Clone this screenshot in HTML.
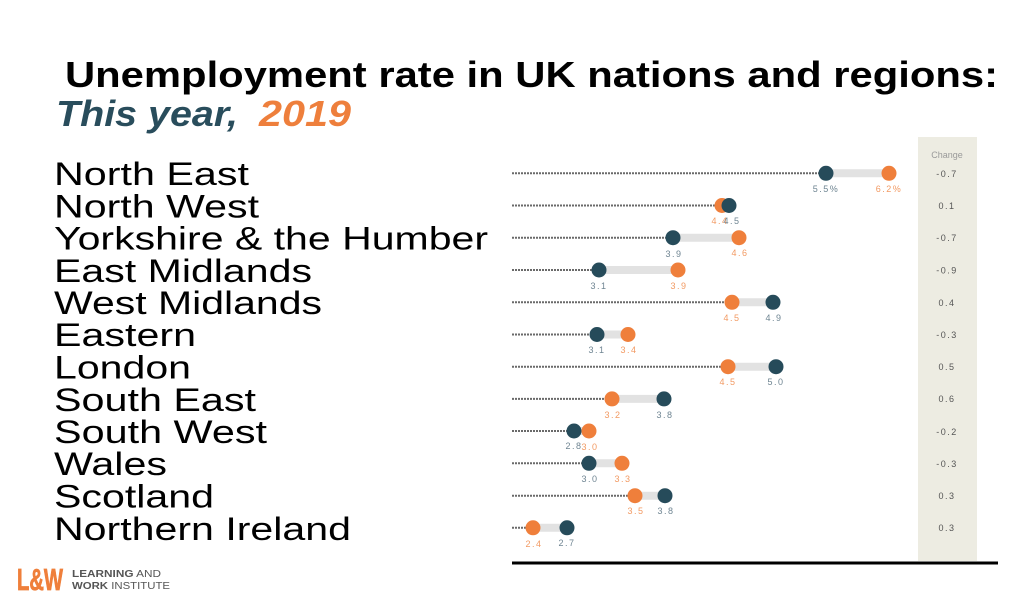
<!DOCTYPE html>
<html><head><meta charset="utf-8"><style>
html,body{margin:0;padding:0;background:#fff;}
svg{display:block;}
</style></head><body>
<svg width="1023" height="596" viewBox="0 0 1023 596" xmlns="http://www.w3.org/2000/svg">
<rect width="1023" height="596" fill="#fff"/>
<!-- Title -->
<text x="65" y="87" font-family="Liberation Sans, sans-serif" font-weight="bold" font-size="36" fill="#000" textLength="933" lengthAdjust="spacingAndGlyphs">Unemployment rate in UK nations and regions:</text>
<text x="56" y="126" font-family="Liberation Sans, sans-serif" font-weight="bold" font-style="italic" font-size="36" fill="#294d5c" textLength="182" lengthAdjust="spacingAndGlyphs">This year,</text>
<text x="259" y="126" font-family="Liberation Sans, sans-serif" font-weight="bold" font-style="italic" font-size="36" fill="#ee7f3c" textLength="92" lengthAdjust="spacingAndGlyphs">2019</text>

<!-- Region labels -->
<g font-family="Liberation Sans, sans-serif" font-size="32" fill="#000">
<text x="54" y="185" textLength="195" lengthAdjust="spacingAndGlyphs">North East</text>
<text x="54" y="217.5" textLength="205" lengthAdjust="spacingAndGlyphs">North West</text>
<text x="54" y="249.5" textLength="434" lengthAdjust="spacingAndGlyphs">Yorkshire &amp; the Humber</text>
<text x="54" y="282" textLength="258" lengthAdjust="spacingAndGlyphs">East Midlands</text>
<text x="54" y="314" textLength="268" lengthAdjust="spacingAndGlyphs">West Midlands</text>
<text x="54" y="346" textLength="142" lengthAdjust="spacingAndGlyphs">Eastern</text>
<text x="54" y="378.5" textLength="137" lengthAdjust="spacingAndGlyphs">London</text>
<text x="54" y="411" textLength="202" lengthAdjust="spacingAndGlyphs">South East</text>
<text x="54" y="443" textLength="213" lengthAdjust="spacingAndGlyphs">South West</text>
<text x="54" y="475" textLength="113" lengthAdjust="spacingAndGlyphs">Wales</text>
<text x="54" y="507.5" textLength="160" lengthAdjust="spacingAndGlyphs">Scotland</text>
<text x="54" y="540" textLength="297" lengthAdjust="spacingAndGlyphs">Northern Ireland</text>
</g>

<!-- Change column -->
<rect x="918" y="137" width="59" height="424" fill="#edece2"/>
<text x="947" y="158" font-family="Liberation Sans, sans-serif" font-size="9" fill="#9a9a9a" text-anchor="middle">Change</text>

<!-- Bottom axis -->
<rect x="512" y="561.5" width="486" height="3" fill="#000"/>

<g font-family="Liberation Sans, sans-serif" font-size="9" text-anchor="middle" letter-spacing="1.5">
<g stroke="#6a6a6a" stroke-width="2" stroke-dasharray="2 1">
<line x1="512" y1="173.3" x2="826" y2="173.3"/>
<line x1="512" y1="205.5" x2="722" y2="205.5"/>
<line x1="512" y1="237.7" x2="673" y2="237.7"/>
<line x1="512" y1="270" x2="599" y2="270"/>
<line x1="512" y1="302.3" x2="732" y2="302.3"/>
<line x1="512" y1="334.5" x2="597" y2="334.5"/>
<line x1="512" y1="366.7" x2="728" y2="366.7"/>
<line x1="512" y1="398.9" x2="612" y2="398.9"/>
<line x1="512" y1="431" x2="574" y2="431"/>
<line x1="512" y1="463.3" x2="589" y2="463.3"/>
<line x1="512" y1="495.7" x2="635" y2="495.7"/>
<line x1="512" y1="527.8" x2="533" y2="527.8"/>
</g>
<g stroke="#e2e2e2" stroke-width="8">
<line x1="826" y1="173.3" x2="889" y2="173.3"/>
<line x1="673" y1="237.7" x2="739" y2="237.7"/>
<line x1="599" y1="270" x2="678" y2="270"/>
<line x1="732" y1="302.3" x2="773" y2="302.3"/>
<line x1="597" y1="334.5" x2="628" y2="334.5"/>
<line x1="728" y1="366.7" x2="776" y2="366.7"/>
<line x1="612" y1="398.9" x2="664" y2="398.9"/>
<line x1="574" y1="431" x2="589" y2="431"/>
<line x1="589" y1="463.3" x2="622" y2="463.3"/>
<line x1="635" y1="495.7" x2="665" y2="495.7"/>
<line x1="533" y1="527.8" x2="567" y2="527.8"/>
</g>

<!-- North East -->
<circle cx="826" cy="173.3" r="7.5" fill="#264b5a"/><circle cx="889" cy="173.3" r="7.5" fill="#ef7f3b"/>
<text x="826" y="192" fill="#6f8592">5.5%</text><text x="889" y="192" fill="#f29a63">6.2%</text>
<text x="947" y="177" fill="#555">-0.7</text>

<!-- North West -->
<circle cx="722" cy="205.5" r="7.5" fill="#ef7f3b"/><circle cx="729" cy="205.5" r="7.5" fill="#264b5a"/>
<text x="720" y="224" fill="#f29a63">4.4</text><text x="732" y="224" fill="#6f8592">4.5</text>
<text x="947" y="209" fill="#555">0.1</text>

<!-- Yorkshire -->
<circle cx="673" cy="237.7" r="7.5" fill="#264b5a"/><circle cx="739" cy="237.7" r="7.5" fill="#ef7f3b"/>
<text x="674" y="257" fill="#6f8592">3.9</text><text x="740" y="256" fill="#f29a63">4.6</text>
<text x="947" y="241" fill="#555">-0.7</text>

<!-- East Midlands -->
<circle cx="599" cy="270" r="7.5" fill="#264b5a"/><circle cx="678" cy="270" r="7.5" fill="#ef7f3b"/>
<text x="599" y="289" fill="#6f8592">3.1</text><text x="679" y="289" fill="#f29a63">3.9</text>
<text x="947" y="273.5" fill="#555">-0.9</text>

<!-- West Midlands -->
<circle cx="732" cy="302.3" r="7.5" fill="#ef7f3b"/><circle cx="773" cy="302.3" r="7.5" fill="#264b5a"/>
<text x="732" y="321" fill="#f29a63">4.5</text><text x="774" y="321" fill="#6f8592">4.9</text>
<text x="947" y="306" fill="#555">0.4</text>

<!-- Eastern -->
<circle cx="597" cy="334.5" r="7.5" fill="#264b5a"/><circle cx="628" cy="334.5" r="7.5" fill="#ef7f3b"/>
<text x="597" y="353" fill="#6f8592">3.1</text><text x="629" y="353" fill="#f29a63">3.4</text>
<text x="947" y="338" fill="#555">-0.3</text>

<!-- London -->
<circle cx="728" cy="366.7" r="7.5" fill="#ef7f3b"/><circle cx="776" cy="366.7" r="7.5" fill="#264b5a"/>
<text x="728" y="385" fill="#f29a63">4.5</text><text x="776" y="385" fill="#6f8592">5.0</text>
<text x="947" y="370" fill="#555">0.5</text>

<!-- South East -->
<circle cx="612" cy="398.9" r="7.5" fill="#ef7f3b"/><circle cx="664" cy="398.9" r="7.5" fill="#264b5a"/>
<text x="613" y="418" fill="#f29a63">3.2</text><text x="665" y="418" fill="#6f8592">3.8</text>
<text x="947" y="402" fill="#555">0.6</text>

<!-- South West -->
<circle cx="574" cy="431" r="7.5" fill="#264b5a"/><circle cx="589" cy="431" r="7.5" fill="#ef7f3b"/>
<text x="574" y="449" fill="#6f8592">2.8</text><text x="590" y="450" fill="#f29a63">3.0</text>
<text x="947" y="435" fill="#555">-0.2</text>

<!-- Wales -->
<circle cx="589" cy="463.3" r="7.5" fill="#264b5a"/><circle cx="622" cy="463.3" r="7.5" fill="#ef7f3b"/>
<text x="590" y="482" fill="#6f8592">3.0</text><text x="623" y="482" fill="#f29a63">3.3</text>
<text x="947" y="467" fill="#555">-0.3</text>

<!-- Scotland -->
<circle cx="635" cy="495.7" r="7.5" fill="#ef7f3b"/><circle cx="665" cy="495.7" r="7.5" fill="#264b5a"/>
<text x="636" y="514" fill="#f29a63">3.5</text><text x="666" y="514" fill="#6f8592">3.8</text>
<text x="947" y="499" fill="#555">0.3</text>

<!-- Northern Ireland -->
<circle cx="533" cy="527.8" r="7.5" fill="#ef7f3b"/><circle cx="567" cy="527.8" r="7.5" fill="#264b5a"/>
<text x="534" y="547" fill="#f29a63">2.4</text><text x="567" y="546" fill="#6f8592">2.7</text>
<text x="947" y="531" fill="#555">0.3</text>
</g>

<!-- Logo -->
<text x="17" y="590" font-family="Liberation Sans, sans-serif" font-weight="bold" font-size="31" fill="#ef7f3b" stroke="#ef7f3b" stroke-width="0.8" textLength="46" lengthAdjust="spacingAndGlyphs">L&amp;W</text>
<text x="72" y="577" font-family="Liberation Sans, sans-serif" font-size="10" fill="#555" textLength="89" lengthAdjust="spacingAndGlyphs"><tspan font-weight="bold">LEARNING</tspan> AND</text>
<text x="72" y="589" font-family="Liberation Sans, sans-serif" font-size="10" fill="#555" textLength="98" lengthAdjust="spacingAndGlyphs"><tspan font-weight="bold">WORK</tspan> INSTITUTE</text>
</svg>
</body></html>
